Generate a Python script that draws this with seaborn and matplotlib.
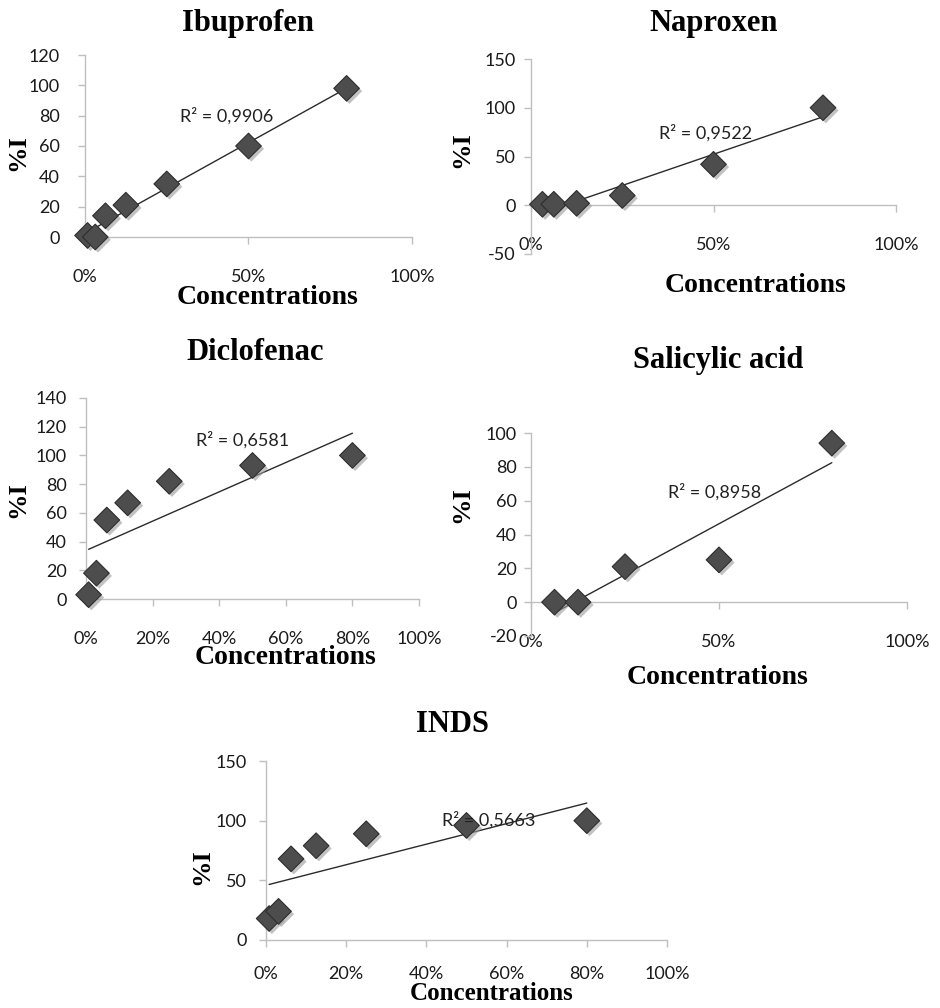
import numpy as np
import pandas as pd
import seaborn as sns
import matplotlib
matplotlib.use("Agg")
import matplotlib.pyplot as plt
from matplotlib.ticker import PercentFormatter, MultipleLocator
import matplotlib.patheffects as pe

sns.set_theme(style="white")
plt.rcParams["font.family"] = ["Lato", "DejaVu Sans"]
plt.rcParams["axes.unicode_minus"] = False

# ---- data (concentration in %, inhibition %I) ----
conc_ibuprofen = [0.78, 3.125, 6.25, 12.5, 25, 50, 80]
inh_ibuprofen = [1, 0, 14, 21, 35, 60, 98]

conc_naproxen = [3.125, 6.25, 12.5, 25, 50, 80]
inh_naproxen = [1, 1, 2, 10, 42, 100]

conc_diclofenac = [0.78, 3.125, 6.25, 12.5, 25, 50, 80]
inh_diclofenac = [3, 18, 55, 67, 82, 93, 100]

conc_salicylic = [6.25, 12.5, 25, 50, 80]
inh_salicylic = [0, 0, 21, 25, 94]

conc_inds = [0.78, 3.125, 6.25, 12.5, 25, 50, 80]
inh_inds = [18, 24, 68, 79, 89, 96, 100]

titles = ["Ibuprofen", "Naproxen", "Diclofenac", "Salicylic acid", "INDS"]
r2_labels = ["R² = 0,9906", "R² = 0,9522", "R² = 0,6581", "R² = 0,8958", "R² = 0,5663"]
xlabel_text = "Concentrations"
ylabel_text = "%I"

W, H = 940, 1008
fig = plt.figure(figsize=(W / 100, H / 100), dpi=100)
fig.patch.set_facecolor("white")


def rect(l, r, t, b):
    return [l / W, 1 - b / H, (r - l) / W, (b - t) / H]


def ftext(x, y, s, **kw):
    fig.text(x / W, 1 - y / H, s, ha="center", va="center", **kw)


layout = [
    dict(x=conc_ibuprofen, y=inh_ibuprofen, box=(85, 412, 55, 237), ylim=(0, 120), ystep=20, xstep=50,
         ypad=13, xpad=18, xlsize=20, r2pos=(29, 80), title=(248, 23), xlab=(267, 297), ylab=(18, 153)),
    dict(x=conc_naproxen, y=inh_naproxen, box=(531, 896, 59, 254), ylim=(-50, 150), ystep=50, xstep=50,
         ypad=6, xpad=18, xlsize=20, r2pos=(35, 74), title=(714, 23), xlab=(755, 285), ylab=(462, 150)),
    dict(x=conc_diclofenac, y=inh_diclofenac, box=(86, 419, 398, 599), ylim=(0, 140), ystep=20, xstep=20,
         ypad=9, xpad=18, xlsize=20, r2pos=(33, 111), title=(255, 353), xlab=(285, 658), ylab=(18, 500)),
    dict(x=conc_salicylic, y=inh_salicylic, box=(531, 907, 433, 636), ylim=(-20, 100), ystep=20, xstep=50,
         ypad=5, xpad=18, xlsize=20, r2pos=(36.5, 65), title=(718, 360), xlab=(718, 678), ylab=(462, 505)),
    dict(x=conc_inds, y=inh_inds, box=(266, 667, 761, 940), ylim=(0, 150), ystep=50, xstep=20,
         ypad=9, xpad=14, xlsize=18, r2pos=(44, 101), title=(452, 725), xlab=(492, 994), ylab=(202, 867)),
]

axis_col = "#bfbfbf"
serif = ["Liberation Serif", "DejaVu Serif"]

for i, p in enumerate(layout):
    ax = fig.add_axes(rect(*p["box"]))
    df = pd.DataFrame({"conc": p["x"], "inh": p["y"]})
    sns.regplot(data=df, x="conc", y="inh", scatter=False, ci=None, truncate=True, ax=ax,
                line_kws=dict(color="#2b2b2b", lw=1.0))
    sns.scatterplot(data=df, x="conc", y="inh", marker="D", s=170, color="#4d4d4d",
                    edgecolor="#2e2e2e", linewidth=0.8, ax=ax, zorder=3, clip_on=False)
    ax.collections[-1].set_path_effects([
        pe.SimplePatchShadow(offset=(2, -2), shadow_rgbFace="#9a9a9a", alpha=0.6), pe.Normal()])
    ax.set_xlim(0, 100)
    ax.set_ylim(*p["ylim"])
    ax.set_xlabel("")
    ax.set_ylabel("")
    ax.set_facecolor("none")
    for s in ["top", "right"]:
        ax.spines[s].set_visible(False)
    for s in ["left", "bottom"]:
        ax.spines[s].set_color(axis_col)
        ax.spines[s].set_linewidth(1.0)
    ax.spines["bottom"].set_position(("data", 0))
    ax.xaxis.set_major_locator(MultipleLocator(p["xstep"]))
    ax.yaxis.set_major_locator(MultipleLocator(p["ystep"]))
    ax.xaxis.set_major_formatter(PercentFormatter(xmax=100, decimals=0))
    ax.tick_params(axis="both", which="major", bottom=True, left=True, direction="out",
                   length=5, width=1, color=axis_col, labelsize=13, labelcolor="#1a1a1a")
    ax.tick_params(axis="x", pad=p["xpad"])
    ax.tick_params(axis="y", pad=p["ypad"])
    ax.text(p["r2pos"][0], p["r2pos"][1], r2_labels[i], fontsize=13, color="#222222",
            ha="left", va="center", zorder=4)
    ftext(*p["title"], titles[i], family=serif, weight="bold", fontsize=22, color="black")
    ftext(*p["xlab"], xlabel_text, family=serif, weight="bold", fontsize=p["xlsize"], color="black")
    ftext(*p["ylab"], ylabel_text, family=serif, weight="bold", fontsize=19, color="black",
          rotation=90)

fig.savefig("out.png", dpi=100, facecolor="white")
